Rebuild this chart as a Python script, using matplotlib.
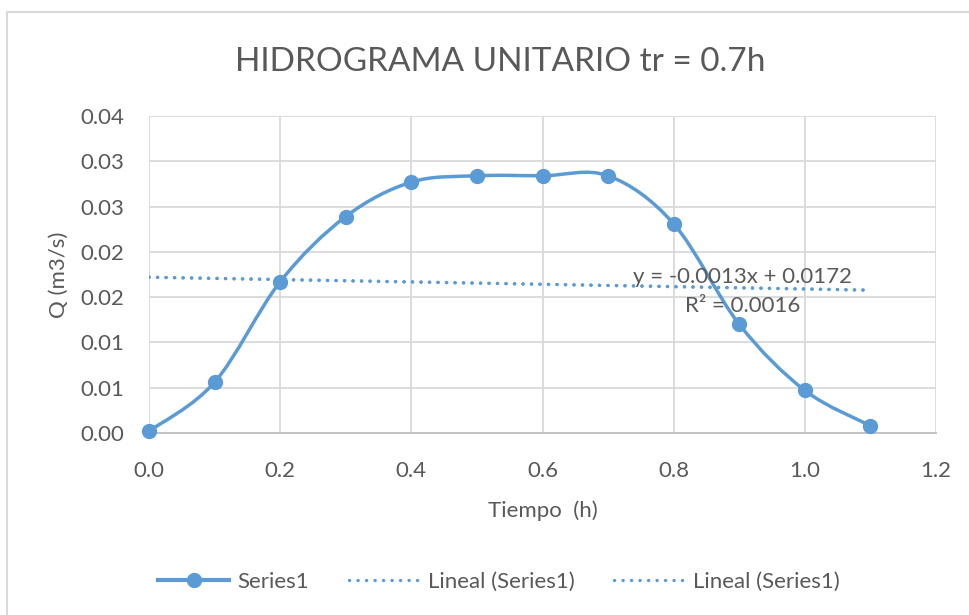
import matplotlib
matplotlib.use("Agg")
import matplotlib.pyplot as plt
from matplotlib.path import Path
from matplotlib.patches import PathPatch, Rectangle
from matplotlib.lines import Line2D
import numpy as np

plt.rcParams['font.family'] = ['Lato', 'DejaVu Sans']

# hidrograma unitario
tiempo = [0.0, 0.1, 0.2, 0.3, 0.4, 0.5, 0.6, 0.7, 0.8, 0.9, 1.0, 1.1]
caudal = [0.0002, 0.0056, 0.0167, 0.0239, 0.0277, 0.0284, 0.0284, 0.0284,
          0.0231, 0.0120, 0.0047, 0.0008]

# recta de tendencia
pendiente = -0.0013
ordenada = 0.0172
r2 = 0.0016

yticks = [0.0, 0.005, 0.010, 0.015, 0.020, 0.025, 0.030, 0.035]
yticklabels = ["0.00", "0.01", "0.01", "0.02", "0.02", "0.03", "0.03", "0.04"]
xticks = [0.0, 0.2, 0.4, 0.6, 0.8, 1.0, 1.2]

azul = "#5B9BD5"
gris = "#595959"
punteado = (0, (0.05, 2.5))


def curva_suave(x, y):
    # bezier tipo excel (catmull-rom)
    p = np.column_stack([x, y])
    verts = [p[0]]
    codes = [Path.MOVETO]
    n = len(p)
    for i in range(n - 1):
        p0 = p[i - 1] if i > 0 else p[i]
        p3 = p[i + 2] if i + 2 < n else p[i + 1]
        c1 = p[i] + (p[i + 1] - p0) / 6.0
        c2 = p[i + 1] - (p3 - p[i]) / 6.0
        verts += [c1, c2, p[i + 1]]
        codes += [Path.CURVE4] * 3
    return Path(verts, codes)


fig = plt.figure(figsize=(9.69, 6.15), dpi=100)
ax = fig.add_axes([149 / 969, 1 - 433 / 615, (936 - 149) / 969, (433 - 116) / 615])

ax.set_xlim(0, 1.2)
ax.set_ylim(0, 0.035)
ax.set_xticks(xticks)
ax.set_xticklabels(["%.1f" % v for v in xticks])
ax.set_yticks(yticks)
ax.set_yticklabels(yticklabels)
ax.grid(True, color="#d9d9d9", lw=1.3)
ax.set_axisbelow(True)
for s in ["top", "right", "left"]:
    ax.spines[s].set_visible(False)
ax.spines["bottom"].set_color("#bfbfbf")
ax.spines["bottom"].set_linewidth(1.3)
ax.tick_params(length=0, labelsize=16, labelcolor=gris)
ax.tick_params(axis="x", pad=20)
ax.tick_params(axis="y", pad=18)

# tendencia (dos veces, como en la leyenda)
xt = np.array([0.0, 1.1])
yt = pendiente * xt + ordenada
ax.plot(xt, yt, color=azul, lw=2.4, linestyle=punteado, dash_capstyle="round")
ax.plot(xt, yt, color=azul, lw=2.4, linestyle=punteado, dash_capstyle="round")

ax.add_patch(PathPatch(curva_suave(tiempo, caudal), fill=False, edgecolor=azul,
                       lw=2.5, capstyle="round", joinstyle="round", clip_on=False))
ax.plot(tiempo, caudal, "o", color=azul, ms=10, clip_on=False, zorder=5)

xe = 0.905
ye = pendiente * xe + ordenada
ax.text(xe, ye + 0.0001, "y = -0.0013x + 0.0172",
        ha="center", va="bottom", fontsize=16, color=gris)
ax.text(xe, ye - 0.0009, "R² = 0.0016",
        ha="center", va="top", fontsize=16, color=gris)

ax.set_xlabel("Tiempo  (h)", fontsize=16, color=gris, labelpad=14)
ax.set_ylabel("Q (m3/s)", fontsize=16, color=gris, labelpad=8)

fig.text(500 / 969, 1 - 62 / 615, "HIDROGRAMA UNITARIO tr = 0.7h",
         ha="center", va="center", fontsize=24, color=gris)

handles = [
    Line2D([], [], color=azul, lw=3, marker="o", ms=10),
    Line2D([], [], color=azul, lw=2.4, linestyle=punteado, dash_capstyle="round"),
    Line2D([], [], color=azul, lw=2.4, linestyle=punteado, dash_capstyle="round"),
]
leg = fig.legend(handles, ["Series1", "Lineal (Series1)", "Lineal (Series1)"],
                 loc="center", bbox_to_anchor=(499 / 969, 1 - 582 / 615), ncol=3,
                 frameon=False, fontsize=16, handlelength=3.2, columnspacing=1.8,
                 handletextpad=0.35)
for t in leg.get_texts():
    t.set_color(gris)

# borde del area del grafico
fig.patches.append(Rectangle((7 / 969, -0.1), 1.2, 1 - 12 / 615 + 0.1,
                             transform=fig.transFigure, fill=False,
                             edgecolor="#d9d9d9", lw=1.5))

fig.savefig("out.png", dpi=100)
